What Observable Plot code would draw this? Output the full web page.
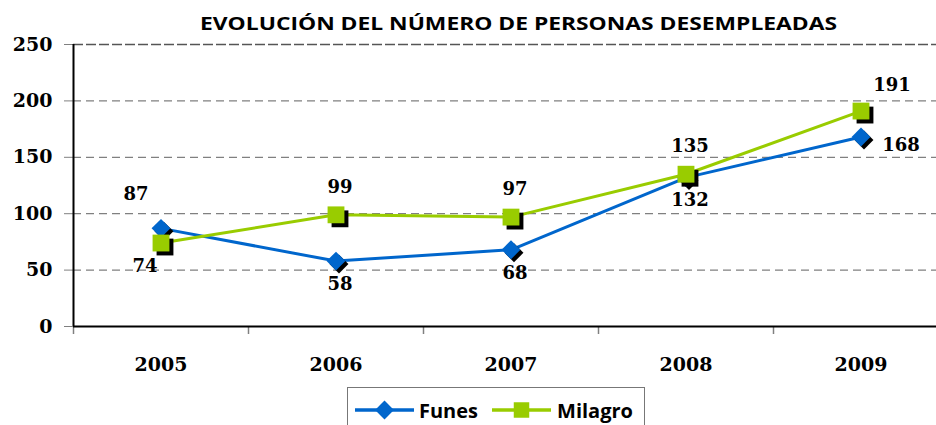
<!DOCTYPE html>
<html><head><meta charset="utf-8">
<script src="https://cdn.jsdelivr.net/npm/d3@7"></script>
<script src="https://cdn.jsdelivr.net/npm/@observablehq/plot@0.6"></script>
<style>
html,body{margin:0;padding:0;background:#fff;overflow:hidden;width:936px;height:425px;}
#wrap{position:relative;width:936px;height:425px;overflow:hidden;}
#title{position:absolute;left:0;top:0;}
#chart{position:absolute;left:0;top:0;}
#legend{position:absolute;left:347px;top:387px;width:298px;height:60px;border:1px solid #777;box-sizing:border-box;background:#fff;}
</style>
</head><body>
<div id="wrap">
  <div id="chart"></div>
  <div id="title"></div>
  <div id="legend"></div>
</div>
<script>
const years = [2005, 2006, 2007, 2008, 2009];
const funes = [87, 58, 68, 132, 168];
const milagro = [74, 99, 97, 135, 191];
const yTicks = [0, 50, 100, 150, 200, 250];
const seriesNames = ["Funes", "Milagro"];
const seriesColors = ["#0066CC", "#99CC00"];
const titleText = "EVOLUCIÓN DEL NÚMERO DE PERSONAS DESEMPLEADAS";
const funesLabelPos = ["above-left", "below", "below", "below", "right"];
const milagroLabelPos = ["below-left", "above", "above", "above", "above-right"];

const labelOffsets = {
  "above": [4, -28], "below": [4, 23],
  "above-left": [-25, -34], "below-left": [-16, 23],
  "right": [40, 8], "above-right": [31, -26]
};

const funesData = years.map((year, i) => ({year, value: funes[i], series: "Funes", pos: funesLabelPos[i]}));
const milagroData = years.map((year, i) => ({year, value: milagro[i], series: "Milagro", pos: milagroLabelPos[i]}));
const allData = funesData.concat(milagroData);
const boundaries = years.map(y => y - 0.5).concat([years[years.length - 1] + 0.5]);

const serif = "'DejaVu Serif', serif";
const sans = "'Open Sans', Lato, sans-serif";

function seriesMarks(data, color, symbol, r, sh) {
  return [
    Plot.line(data, {x: "year", y: "value", stroke: color, strokeWidth: 3}),
    Plot.dot(data, {x: "year", y: "value", symbol, r, fill: "#000", dx: sh, dy: sh}),
    Plot.dot(data, {x: "year", y: "value", symbol, r, fill: color})
  ];
}

const labelMarks = Object.entries(labelOffsets).map(([pos, [dx, dy]]) =>
  Plot.text(allData.filter(d => d.pos === pos), {
    x: "year", y: "value", text: d => String(d.value), dx, dy,
    fontSize: 18, fontWeight: "bold", fontFamily: serif, fill: "#000"
  })
);

const chart = Plot.plot({
  width: 936, height: 425,
  marginTop: 44, marginBottom: 99, marginLeft: 73, marginRight: 0,
  style: {fontFamily: serif, fontWeight: "bold", fontSize: "19px", color: "#000", background: "transparent"},
  x: {domain: [boundaries[0], boundaries[boundaries.length - 1]], range: [73, 948], label: null},
  y: {domain: [0, 250], label: null},
  marks: [
    Plot.ruleY(yTicks.filter(v => v > 0 && v < 250), {y: d => d, stroke: "#808080", strokeWidth: 1.3, strokeDasharray: "8,5"}),
    Plot.ruleY([250], {stroke: "#555", strokeWidth: 1.5, strokeDasharray: "10,3"}),
    Plot.axisY({ticks: yTicks, tickSize: 9, tickPadding: 12, stroke: "#808080", fontSize: 19, fontWeight: "bold", fontFamily: serif, label: null}),
    Plot.axisX({ticks: boundaries, tickSize: 8, tickFormat: () => "", stroke: "#808080", strokeWidth: 1.5, label: null}),
    Plot.axisX({ticks: years, tickSize: 0, tickPadding: 31, tickFormat: d => String(d), fontSize: 19, fontWeight: "bold", fontFamily: serif, label: null}),
    Plot.ruleY([0], {stroke: "#000", strokeWidth: 2}),
    Plot.ruleX([boundaries[0]], {stroke: "#000", strokeWidth: 2}),
    ...seriesMarks(funesData, seriesColors[0], "diamond2", 8.5, 3),
    ...seriesMarks(milagroData, seriesColors[1], "square", 9.5, 4),
    ...labelMarks
  ]
});
document.getElementById("chart").appendChild(chart);

// Title
const ts = d3.select("#title").append("svg").attr("width", 936).attr("height", 40);
ts.append("text").attr("x", 518.5).attr("y", 29.5).attr("text-anchor", "middle")
  .attr("textLength", 637).attr("lengthAdjust", "spacingAndGlyphs")
  .attr("font-family", sans).attr("font-weight", "bold").attr("font-size", 18.5).attr("fill", "#000")
  .text(titleText);

// Legend
const lg = d3.select("#legend").append("svg").attr("width", 296).attr("height", 40);
const legendItems = [
  {name: seriesNames[0], color: seriesColors[0], sym: d3.symbolDiamond2, size: Math.PI * 8.5 * 8.5, x0: 7, x1: 66, tx: 71, tl: 59},
  {name: seriesNames[1], color: seriesColors[1], sym: d3.symbolSquare, size: 15.5 * 15.5, x0: 144, x1: 203, tx: 209, tl: 76}
];
legendItems.forEach(it => {
  lg.append("line").attr("x1", it.x0).attr("x2", it.x1).attr("y1", 22).attr("y2", 22)
    .attr("stroke", it.color).attr("stroke-width", 3.5);
  lg.append("path").attr("d", d3.symbol(it.sym, it.size)())
    .attr("transform", `translate(${(it.x0 + it.x1) / 2},22)`).attr("fill", it.color);
  lg.append("text").attr("x", it.tx).attr("y", 29.5).text(it.name)
    .attr("textLength", it.tl).attr("lengthAdjust", "spacingAndGlyphs")
    .attr("font-family", sans).attr("font-weight", "bold").attr("font-size", 20).attr("fill", "#000");
});
</script>
</body></html>
